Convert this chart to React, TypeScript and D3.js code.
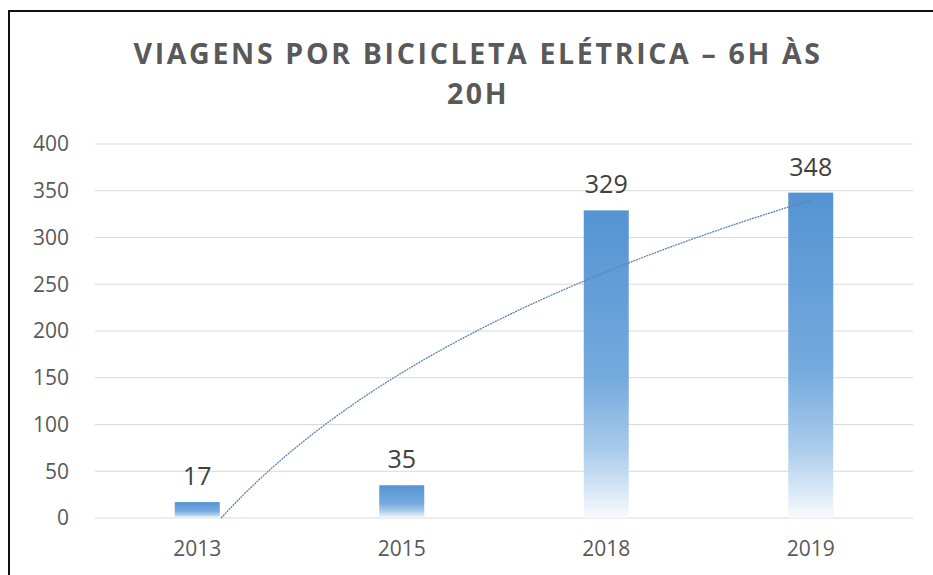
import { useEffect, useRef } from 'react';
import * as d3 from 'd3';

// Reference chart data
const years = ['2013', '2015', '2018', '2019'];
const trips = [17, 35, 329, 348];
const yTicks = [0, 50, 100, 150, 200, 250, 300, 350, 400];
const titleLines = ['VIAGENS POR BICICLETA ELÉTRICA – 6H ÀS', '20H'];

const COLORS = {
    text: '#595959',
    label: '#404040',
    grid: '#d9d9d9',
    trend: '#5a84b5',
    frame: '#111111',
};

const W = 933;
const H = 575;

export default function App() {
    const svgRef = useRef<SVGSVGElement | null>(null);

    useEffect(() => {
        if (!svgRef.current) return;
        const svg = d3.select(svgRef.current);
        svg.selectAll('*').remove();

        const margin = { top: 144, right: 20, bottom: 57, left: 95 };
        const w = 913 - margin.left;
        const h = H - margin.top - margin.bottom;
        const font = "'Open Sans', sans-serif";

        // gradient for bars: solid blue on top, fading to white at the bottom
        const defs = svg.append('defs');
        const grad = defs.append('linearGradient')
            .attr('id', 'barGrad')
            .attr('x1', 0).attr('y1', 0).attr('x2', 0).attr('y2', 1);
        [
            [0, '#5593d3'],
            [0.55, '#75aadd'],
            [0.78, '#a9cbeb'],
            [1, '#f7fafd'],
        ].forEach(([o, c]) => grad.append('stop').attr('offset', o as number).attr('stop-color', c as string));

        svg.append('rect').attr('width', W).attr('height', H).attr('fill', '#fff');

        // frame (top and left edges only, as in the screenshot)
        svg.append('line').attr('x1', 8).attr('x2', W).attr('y1', 11).attr('y2', 11)
            .attr('stroke', COLORS.frame).attr('stroke-width', 2);
        svg.append('line').attr('x1', 9).attr('x2', 9).attr('y1', 10).attr('y2', H)
            .attr('stroke', COLORS.frame).attr('stroke-width', 2);

        // title
        titleLines.forEach((t, i) => {
            const txt = svg.append('text')
                .attr('x', 478).attr('y', 64 + i * 40)
                .attr('text-anchor', 'middle')
                .style('font-family', font).style('font-weight', 700)
                .style('font-size', '28.5px').style('letter-spacing', '2.5px')
                .style('fill', COLORS.text)
                .text(t);
            if (i === 0) txt.attr('textLength', 689).attr('lengthAdjust', 'spacing');
        });

        const g = svg.append('g').attr('transform', `translate(${margin.left},${margin.top})`);

        const x = d3.scaleBand<string>().domain(years).range([0, w]).paddingInner(0.78).paddingOuter(0.39);
        const y = d3.scaleLinear().domain([0, 400]).range([h, 0]);

        // gridlines
        g.selectAll('.grid').data(yTicks).enter().append('line')
            .attr('x1', 0).attr('x2', w)
            .attr('y1', d => y(d)).attr('y2', d => y(d))
            .attr('stroke', COLORS.grid).attr('stroke-width', 1.2);

        // y tick labels
        g.selectAll('.ylab').data(yTicks).enter().append('text')
            .attr('x', -26).attr('y', d => y(d)).attr('dy', '0.35em')
            .attr('text-anchor', 'end')
            .style('font-family', font).style('font-size', '21px')
            .style('fill', COLORS.text)
            .text(d => d);

        // bars
        g.selectAll('.bar').data(trips).enter().append('rect')
            .attr('x', (_, i) => x(years[i])!)
            .attr('width', x.bandwidth())
            .attr('y', d => y(d))
            .attr('height', d => h - y(d))
            .attr('fill', 'url(#barGrad)');

        // value labels
        g.selectAll('.val').data(trips).enter().append('text')
            .attr('x', (_, i) => x(years[i])! + x.bandwidth() / 2)
            .attr('y', d => y(d) - 17)
            .attr('text-anchor', 'middle')
            .style('font-family', font).style('font-size', '25px')
            .style('fill', COLORS.label)
            .text(d => d);

        // x labels
        g.selectAll('.xlab').data(years).enter().append('text')
            .attr('x', d => x(d)! + x.bandwidth() / 2)
            .attr('y', h + 38)
            .attr('text-anchor', 'middle')
            .style('font-family', font).style('font-size', '21px')
            .style('fill', COLORS.text)
            .text(d => d);

        // logarithmic trendline (least squares on ln(index)), clipped at 0
        const lx = trips.map((_, i) => Math.log(i + 1));
        const mx = d3.mean(lx)!;
        const my = d3.mean(trips)!;
        const a = d3.sum(lx, (v, i) => (v - mx) * (trips[i] - my)) / d3.sum(lx, v => (v - mx) ** 2);
        const b = my - a * mx;
        const start = Math.exp(-b / a);
        const step = x.step();
        const cx = (k: number) => x(years[0])! + x.bandwidth() / 2 + (k - 1) * step;
        const pts = d3.range(start, trips.length + 0.0001, 0.02).map(k => [cx(k), y(Math.max(0, a * Math.log(k) + b))] as [number, number]);
        g.append('path')
            .attr('d', d3.line()(pts))
            .attr('fill', 'none')
            .attr('stroke', COLORS.trend)
            .attr('stroke-width', 1.3)
            .attr('stroke-dasharray', '2,0.8');
    }, []);

    return (
        <svg ref={svgRef} width={W} height={H}
            style={{ position: 'absolute', left: 0, top: 0, display: 'block' }} />
    );
}
